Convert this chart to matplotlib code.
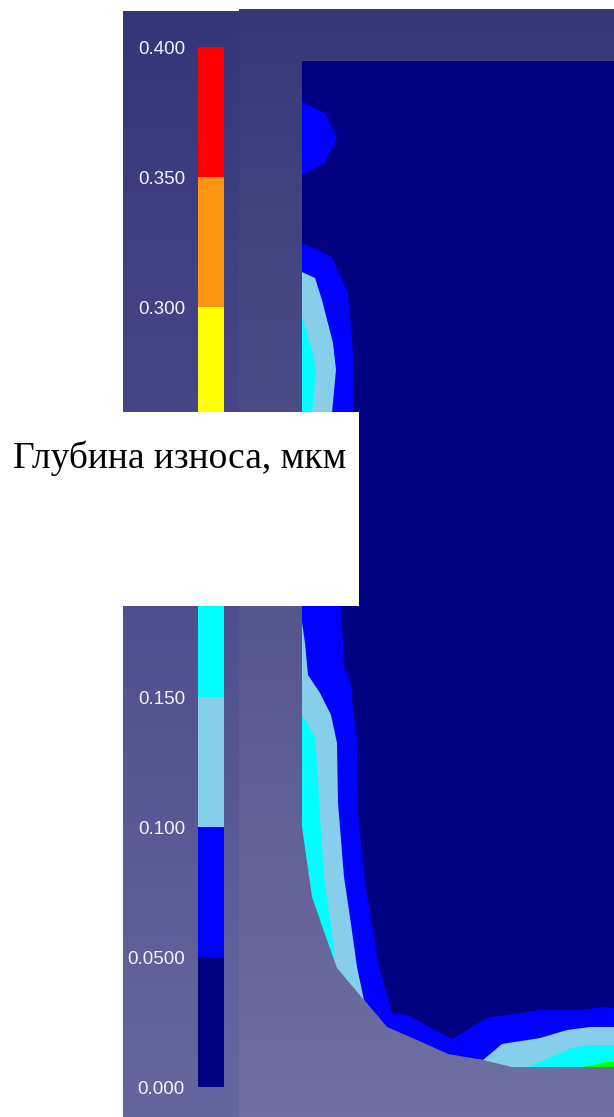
import matplotlib
matplotlib.use("Agg")
import matplotlib.pyplot as plt
from matplotlib.patches import Polygon, Rectangle
import numpy as np

W, H = 614, 1117

# colour scale
band_edges = [0.0, 0.05, 0.10, 0.15, 0.20, 0.25, 0.30, 0.35, 0.40]
band_colors = ['#000080', '#0000ff', '#87ceeb', '#00ffff', '#00ff00', '#ffff00', '#ff9410', '#ff0000']
tick_values = [0.0, 0.05, 0.10, 0.15, 0.30, 0.35, 0.40]
tick_labels = ['0.000', '0.0500', '0.100', '0.150', '0.300', '0.350', '0.400']

# contour outlines (image pixels)
blue_spot = [(302, 102), (325, 113), (337, 138), (325, 163), (302, 175)]
blue_band = [(302, 243), (332, 257), (348, 293), (353, 353), (354, 413), (341, 606), (344, 667),
             (352, 688), (352, 700), (357, 740), (358, 813), (365, 883), (379, 967), (392, 1013),
             (407, 1015), (452, 1039), (487, 1018), (540, 1010), (580, 1010), (603, 1007), (614, 1008),
             (614, 1117), (302, 1117)]
sky_upper = [(302, 272), (315, 278), (322, 300), (333, 343), (336, 370), (332, 413), (320, 500), (302, 500)]
sky_lower = [(302, 622), (305, 643), (308, 675), (320, 693), (331, 715), (337, 743), (338, 803),
             (344, 877), (350, 917), (357, 967), (364, 1000), (377, 1017), (387, 1029), (417, 1042),
             (448, 1056), (483, 1060), (502, 1044), (540, 1038), (567, 1030), (590, 1027), (614, 1027),
             (614, 1117), (302, 1117)]
cyan_upper = [(302, 317), (312, 350), (316, 370), (312, 413), (308, 500), (302, 500)]
cyan_lower = [(302, 715), (315, 737), (317, 763), (320, 817), (324, 877), (330, 920), (335, 958),
              (302, 958)]
cyan_bottom = [(528, 1067), (572, 1048), (590, 1045), (614, 1045), (614, 1117), (528, 1117)]
green_bottom = [(582, 1067), (607, 1062), (614, 1062), (614, 1117), (582, 1117)]
ground = [(302, 827), (312, 897), (333, 957), (337, 968), (364, 1000), (377, 1015), (387, 1027),
          (417, 1040), (448, 1054), (483, 1060), (512, 1067), (614, 1067)]

fig = plt.figure(figsize=(W / 100, H / 100), dpi=100, facecolor='white')
ax = fig.add_axes([0, 0, 1, 1])
ax.set_xlim(0, W)
ax.set_ylim(H, 0)
ax.axis('off')


def gradient(x0, x1, y0, y1, top, bottom, z, clip=None):
    top = np.array(matplotlib.colors.to_rgb(top))
    bottom = np.array(matplotlib.colors.to_rgb(bottom))
    t = np.linspace(0, 1, 256)[:, None, None]
    im = ax.imshow(top + (bottom - top) * t, extent=[x0, x1, y1, y0], aspect='auto', zorder=z)
    if clip is not None:
        im.set_clip_path(clip)
    return im


# left panel behind the colour scale
gradient(123, 239, 11, H, '#35357a', '#66669f', 1)

# contour field, painted from lowest band up
ax.add_patch(Rectangle((302, 61), W - 302, H - 61, color=band_colors[0], lw=0, zorder=2))
ax.add_patch(Polygon(blue_spot, color=band_colors[1], lw=0, zorder=3))
ax.add_patch(Polygon(blue_band, color=band_colors[1], lw=0, zorder=3))
for poly in [sky_upper, sky_lower]:
    ax.add_patch(Polygon(poly, color=band_colors[2], lw=0, zorder=4))
for poly in [cyan_upper, cyan_lower, cyan_bottom]:
    ax.add_patch(Polygon(poly, color=band_colors[3], lw=0, zorder=5))
ax.add_patch(Polygon(green_bottom, color=band_colors[4], lw=0, zorder=6))

# main panel frame and the grey part, over the field
frame = [(239, 9), (W, 9), (W, 61), (302, 61)] + ground + [(W, H), (239, H)]
frame_patch = Polygon(frame, closed=True, transform=ax.transData, fc='none', ec='none')
ax.add_patch(frame_patch)
gradient(239, W, 9, H, '#383878', '#7070a2', 7, clip=frame_patch)
ax.set_xlim(0, W)
ax.set_ylim(H, 0)

# colour scale
cax = fig.add_axes([198 / W, 1 - 1087 / H, 26 / W, 1040 / H], zorder=2)
cax.patch.set_alpha(0)
cax.bar([0] * len(band_colors), np.diff(band_edges), bottom=band_edges[:-1], width=1, color=band_colors)
cax.set_xlim(-0.5, 0.5)
cax.set_ylim(0, 0.4)
cax.set_xticks([])
cax.set_yticks(tick_values)
cax.set_yticklabels(tick_labels, family='Liberation Sans', fontsize=13.5, color='#f4f4f8')
cax.tick_params(axis='y', length=0, pad=9.4)
for s in cax.spines.values():
    s.set_visible(False)

# white caption box pasted on top
top = fig.add_axes([0, 0, 1, 1], zorder=3)
top.set_xlim(0, W)
top.set_ylim(H, 0)
top.axis('off')
top.add_patch(Rectangle((0, 412), 358.5, 193.5, color='white', lw=0))
top.text(13, 468, 'Глубина износа, мкм', family='Liberation Serif', fontsize=27, color='black',
         ha='left', va='baseline')

fig.savefig('out.png', dpi=100)
